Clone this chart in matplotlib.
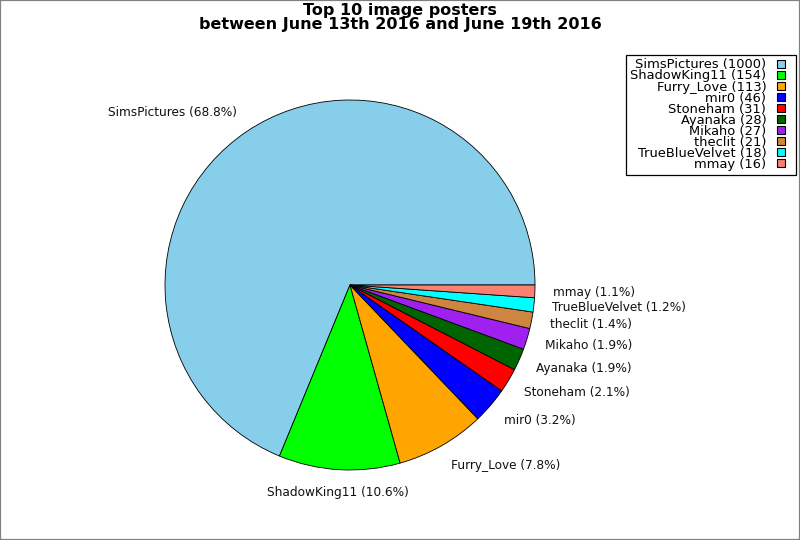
import matplotlib
matplotlib.use("Agg")
import matplotlib.pyplot as plt
from matplotlib.patches import Rectangle
from matplotlib.lines import Line2D

names = ["SimsPictures", "ShadowKing11", "Furry_Love", "mir0", "Stoneham",
         "Ayanaka", "Mikaho", "theclit", "TrueBlueVelvet", "mmay"]
counts = [1000, 154, 113, 46, 31, 28, 27, 21, 18, 16]
colors = ["#87ceeb", "#00ff00", "#ffa500", "#0000ff", "#ff0000",
          "#006400", "#a020f0", "#cd853f", "#00ffff", "#fa8072"]

total = sum(counts)
labels = [f"{n} ({c / total * 100:.1f}%)" for n, c in zip(names, counts)]
leg_labels = [f"{n} ({c})" for n, c in zip(names, counts)]

fig = plt.figure(figsize=(8, 5.4), dpi=100)
fig.patches.append(Rectangle((0, 0), 1, 1, transform=fig.transFigure,
                             fill=False, edgecolor="#808080", linewidth=1.6,
                             zorder=10))

ax = fig.add_axes([150 / 800, 55 / 540, 400 / 800, 400 / 540])
wedges, texts = ax.pie(counts, labels=labels, colors=colors, startangle=0,
                       counterclock=True, labeldistance=1.1,
                       wedgeprops=dict(edgecolor="black", linewidth=0.6),
                       textprops=dict(fontsize=8.7, color="#111111"))
for t in texts:
    x, y = t.get_position()
    t.set_position((x, y * 1.02))
    if abs(x) < 0.1:
        t.set_ha("center")
lim = 400 / (2 * 185)
ax.set_xlim(-lim, lim)
ax.set_ylim(-lim, lim)
ax.set_aspect("equal")

fig.suptitle("Top 10 image posters\nbetween June 13th 2016 and June 19th 2016",
             fontsize=11.5, fontweight="bold", y=0.994, linespacing=0.9)

handles = [Line2D([], [], marker="s", linestyle="none", markersize=6.3,
                  markerfacecolor=c, markeredgecolor="black",
                  markeredgewidth=0.8) for c in colors]
leg = fig.legend(handles, leg_labels, loc="upper right",
                 bbox_to_anchor=(796 / 800, 1 - 54.5 / 540), borderaxespad=0,
                 markerfirst=False, fontsize=9.4, handlelength=1.7,
                 handletextpad=0.27, labelspacing=-0.15,
                 borderpad=0.3, fancybox=False, edgecolor="black",
                 framealpha=1)
leg.get_frame().set_linewidth(0.9)
for t in leg.get_texts():
    t.set_ha("right")

fig.savefig("out.png", dpi=100)
